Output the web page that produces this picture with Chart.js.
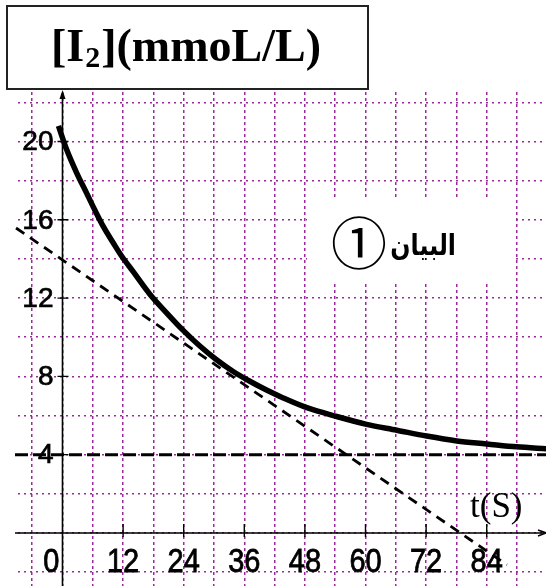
<!DOCTYPE html>
<html><head><meta charset="utf-8">
<script src="https://cdn.jsdelivr.net/npm/chart.js@4.4.1/dist/chart.umd.min.js"></script>
<style>html,body{margin:0;padding:0;background:#fff;overflow:hidden}canvas{display:block}</style>
</head><body>
<canvas id="c" width="546" height="586"></canvas>
<script>
// ---- data ----
const curveT = [-0.8, 0.8, 2.8, 4.8, 6.4, 8.1, 10.1, 11.7, 14.0, 17.3, 20.6, 23.9, 27.2, 30.5, 33.8, 37.1, 40.4, 43.7, 48.4, 54.3, 60.2, 66.2, 72.1, 78.1, 84.0, 89.9, 96];
const curveC = [20.8, 19.6, 18.4, 17.35, 16.5, 15.65, 14.8, 14.15, 13.35, 12.2, 11.25, 10.35, 9.55, 8.85, 8.25, 7.75, 7.3, 6.9, 6.4, 5.95, 5.55, 5.25, 4.95, 4.7, 4.55, 4.4, 4.3];
const tangentT = [-9.2, 88];
const tangentC = [15.58, -1.63];
const asymT = [-9.4, 96];
const asymC = [4, 4];
const xTickVals = [0, 12, 24, 36, 48, 60, 72, 84];
const xTickLabels = ['0', '12', '24', '36', '48', '60', '72', '84'];
const yTickVals = [4, 8, 12, 16, 20];
const yTickLabels = ['4', '8', '12', '16', '20'];
const xMin = -8.81, xMax = 95.74, yMin = -2.71, yMax = 22.53;

const toPts = (xs, ys) => xs.map((v, i) => ({x: v, y: ys[i]}));
const GRID = '#9a2a9a';

const decor = {
  id: 'decor',
  beforeDatasetsDraw(chart) {
    const {ctx, scales: {x, y}} = chart;
    ctx.save();
    ctx.fillStyle = '#fff';
    ctx.fillRect(307, 199, 208, 85);
    const x0 = x.getPixelForValue(0), y0 = y.getPixelForValue(0);
    ctx.strokeStyle = '#000';
    ctx.fillStyle = '#000';
    ctx.lineWidth = 1.6;
    ctx.setLineDash([]);
    ctx.beginPath();
    ctx.moveTo(x0, 586); ctx.lineTo(x0, 93);
    ctx.moveTo(15, y0); ctx.lineTo(544, y0);
    ctx.stroke();
    ctx.beginPath();
    ctx.moveTo(x0, 90); ctx.lineTo(x0 - 3, 99); ctx.lineTo(x0 + 3, 99); ctx.closePath(); ctx.fill();
    ctx.beginPath();
    ctx.moveTo(546, y0); ctx.lineTo(538, y0 - 3); ctx.moveTo(546, y0); ctx.lineTo(538, y0 + 3); ctx.stroke();
    ctx.lineWidth = 1.4;
    ctx.beginPath();
    xTickVals.forEach(v => { if (v === 0) return; const px = x.getPixelForValue(v); ctx.moveTo(px, y0 - 9); ctx.lineTo(px, y0 + 4); });
    yTickVals.forEach(v => { const py = y.getPixelForValue(v); ctx.moveTo(x0 - 5, py); ctx.lineTo(x0 + 6, py); });
    ctx.stroke();
    ctx.restore();
  },
  afterDatasetsDraw(chart) {
    const {ctx, scales: {x, y}} = chart;
    const x0 = x.getPixelForValue(0);
    ctx.save();
    ctx.fillStyle = '#000';
    ctx.strokeStyle = '#000';
    ctx.lineWidth = 0.7;
    // y labels
    ctx.font = '28px "Liberation Sans", Arial, sans-serif';
    ctx.textAlign = 'right';
    ctx.textBaseline = 'middle';
    yTickVals.forEach((v, i) => {
      const py = y.getPixelForValue(v) + 1;
      ctx.fillText(yTickLabels[i], x0 - 9, py);
      ctx.strokeText(yTickLabels[i], x0 - 9, py);
    });
    // x labels
    ctx.font = '29px "Liberation Sans", Arial, sans-serif';
    xTickVals.forEach((v, i) => {
      const px = x.getPixelForValue(v);
      ctx.save();
      ctx.translate(0, 563);
      ctx.scale(1, 1.12);
      ctx.textBaseline = 'middle';
      const lx = v === 0 ? px - 3 : px;
      ctx.textAlign = v === 0 ? 'right' : 'center';
      ctx.fillText(xTickLabels[i], lx, 0);
      ctx.strokeText(xTickLabels[i], lx, 0);
      ctx.restore();
    });
    // axis name t(S)
    ctx.textAlign = 'left';
    ctx.textBaseline = 'alphabetic';
    ctx.font = '35px "Liberation Serif", "Times New Roman", serif';
    ctx.fillText('t(S)', 470, 517);
    // annotation
    ctx.save();
    ctx.translate(456, 255);
    ctx.scale(0.88, 1.05);
    ctx.font = 'bold 27px "DejaVu Sans", sans-serif';
    ctx.textAlign = 'right';
    ctx.direction = 'rtl';
    ctx.fillText('البيان', 0, 0);
    ctx.restore();
    ctx.direction = 'ltr';
    ctx.textAlign = 'center';
    ctx.font = '56px "Noto Sans CJK JP", "DejaVu Sans", sans-serif';
    ctx.textBaseline = 'middle';
    ctx.fillText('①', 359, 243);
    // title box
    ctx.fillStyle = '#fff';
    ctx.fillRect(6, 5, 362, 84);
    ctx.strokeStyle = '#222';
    ctx.lineWidth = 2;
    ctx.strokeRect(7, 6, 361, 83);
    ctx.fillStyle = '#000';
    ctx.textAlign = 'left';
    ctx.textBaseline = 'alphabetic';
    const f1 = 'bold 46px "Liberation Serif", "Times New Roman", serif';
    const f2 = 'bold 30px "Liberation Serif", "Times New Roman", serif';
    let cx = 51;
    ctx.font = f1; ctx.fillText('[I', cx, 61); cx += ctx.measureText('[I').width + 1;
    ctx.font = f2; ctx.fillText('2', cx, 67); cx += ctx.measureText('2').width + 1;
    ctx.font = f1; ctx.fillText('](mmoL/L)', cx, 61);
    ctx.restore();
  }
};

new Chart(document.getElementById('c'), {
  type: 'line',
  data: {
    datasets: [
      {data: toPts(curveT, curveC), borderColor: '#000', borderWidth: 5.5, pointRadius: 0, cubicInterpolationMode: 'monotone', fill: false, clip: false},
      {data: toPts(tangentT, tangentC), borderColor: '#000', borderWidth: 2.8, borderDash: [10, 7], pointRadius: 0, fill: false, clip: false},
      {data: toPts(asymT, asymC), borderColor: '#000', borderWidth: 3, borderDash: [13, 5], pointRadius: 0, fill: false, clip: false}
    ]
  },
  options: {
    responsive: false,
    animation: false,
    devicePixelRatio: 1,
    layout: {padding: {left: 18, top: 92, right: 0, bottom: 0}},
    plugins: {legend: {display: false}, tooltip: {enabled: false}, title: {display: false}},
    scales: {
      x: {
        type: 'linear', min: xMin, max: xMax,
        ticks: {display: false, stepSize: 6, includeBounds: false},
        grid: {color: GRID, lineWidth: 1.5, drawTicks: false},
        border: {display: false, dash: [3, 3]},
        afterFit: s => { s.height = 0; }
      },
      y: {
        type: 'linear', min: yMin, max: yMax,
        ticks: {display: false, stepSize: 2, includeBounds: false},
        grid: {color: GRID, lineWidth: 1.5, drawTicks: false},
        border: {display: false, dash: [2, 4]},
        afterFit: s => { s.width = 0; }
      }
    }
  },
  plugins: [decor]
});
</script>
</body></html>
